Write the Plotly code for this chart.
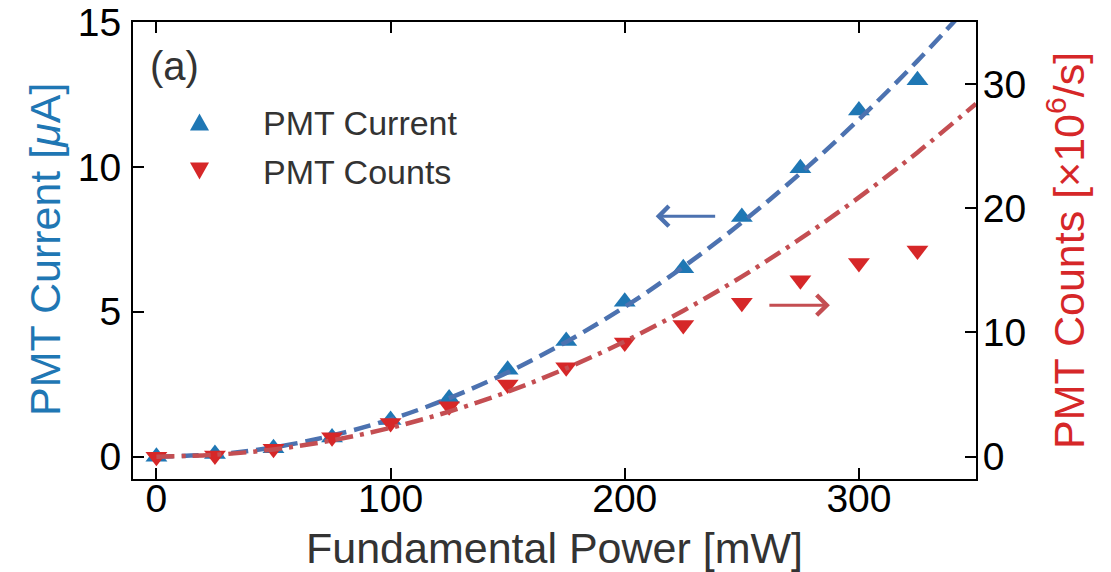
import plotly.graph_objects as go

# ---------------- data ----------------
power = [0, 25, 50, 75, 100, 125, 150, 175, 200, 225, 250, 275, 300, 325]
pmt_current = [0.0, 0.09, 0.29, 0.66, 1.27, 2.01, 3.0, 3.99, 5.35, 6.5, 8.27, 9.95, 11.95, 12.99]
pmt_counts = [0.0, 0.1, 0.64, 1.57, 2.7, 4.05, 5.8, 7.2, 9.2, 10.6, 12.4, 14.2, 15.6, 16.6]

fit_power = [0, 25, 50, 75, 100, 125, 150, 175, 200, 225, 250, 275, 300, 325, 350]
current_fit = [0.0, 0.08, 0.32, 0.73, 1.29, 2.02, 2.91, 3.96, 5.17, 6.55, 8.08, 9.78, 11.64, 13.66, 15.84]
counts_fit = [0.0, 0.15, 0.58, 1.31, 2.32, 3.63, 5.22, 7.11, 9.28, 11.75, 14.5, 17.55, 20.88, 24.5, 28.42]

x_ticks = [0, 100, 200, 300]
y_ticks = [0, 5, 10, 15]
y2_ticks = [0, 10, 20, 30]

# ---------------- style ----------------
BLUE = "#1f77b4"
RED = "#d62728"
BLUE_LINE = "#4C72B0"
RED_LINE = "#C44E52"
FONT = "Liberation Sans, Arial, Helvetica, sans-serif"
TXT = "#333333"

W, H = 1111, 572
L, R, T, B = 133, 135, 22, 93
PW, PH = W - L - R, H - T - B


def px(X, Y):
    return (X - L) / PW, (H - B - Y) / PH


fig = go.Figure()

fig.add_trace(go.Scatter(
    x=power, y=pmt_current, mode="markers", name="PMT Current",
    marker=dict(symbol="triangle-up", size=19, color=BLUE, line=dict(width=0)),
    showlegend=False, yaxis="y"))
fig.add_trace(go.Scatter(
    x=fit_power, y=current_fit, mode="lines", line_shape="spline",
    line=dict(color=BLUE_LINE, width=4.5, dash="17px,8px"),
    showlegend=False, yaxis="y"))
fig.add_trace(go.Scatter(
    x=power, y=pmt_counts, mode="markers", name="PMT Counts",
    marker=dict(symbol="triangle-down", size=19, color=RED, line=dict(width=0)),
    showlegend=False, yaxis="y2"))
fig.add_trace(go.Scatter(
    x=fit_power, y=counts_fit, mode="lines", line_shape="spline",
    line=dict(color=RED_LINE, width=4.5, dash="18px,7px,4px,7px"),
    showlegend=False, yaxis="y2"))

axis_common = dict(
    showline=True, linecolor="black", linewidth=2,
    ticks="inside", ticklen=11, tickwidth=2, tickcolor="black",
    showgrid=False, zeroline=False, automargin=False,
    tickfont=dict(family=FONT, size=39, color="black"),
)

fig.update_layout(
    width=W, height=H,
    margin=dict(l=L, r=R, t=T, b=B),
    paper_bgcolor="white", plot_bgcolor="white",
    showlegend=False,
    xaxis=dict(range=[-10, 350], tickvals=x_ticks, mirror="ticks",
               ticklabelstandoff=-16, **axis_common),
    yaxis=dict(range=[-0.77, 15], tickvals=y_ticks, mirror=False,
               ticklabelstandoff=2, **axis_common),
    yaxis2=dict(range=[-1.8, 35], tickvals=y2_ticks, overlaying="y", side="right",
                ticklabelstandoff=-3, **axis_common),
)

# legend (drawn manually)
legend_shapes = []
bx, by = 199.5, 122
x1, y1 = px(bx - 9.5, by + 8.5)
x2, y2 = px(bx + 9.5, by + 8.5)
x3, y3 = px(bx, by - 8.5)
legend_shapes.append(dict(type="path", xref="paper", yref="paper",
                          path=f"M{x1},{y1} L{x2},{y2} L{x3},{y3} Z",
                          fillcolor=BLUE, line=dict(width=0)))
rx, ry = 199.5, 171
x1, y1 = px(rx - 9.5, ry - 8.5)
x2, y2 = px(rx + 9.5, ry - 8.5)
x3, y3 = px(rx, ry + 8.5)
legend_shapes.append(dict(type="path", xref="paper", yref="paper",
                          path=f"M{x1},{y1} L{x2},{y2} L{x3},{y3} Z",
                          fillcolor=RED, line=dict(width=0)))
fig.update_layout(shapes=legend_shapes)

ann = []


def text_ann(text, X, Y, size, color, xanchor="left", angle=0):
    xp, yp = px(X, Y)
    ann.append(dict(text=text, x=xp, y=yp, xref="paper", yref="paper",
                    xanchor=xanchor, yanchor="middle", showarrow=False,
                    textangle=angle, borderpad=0,
                    font=dict(family=FONT, size=size, color=color)))


text_ann("PMT Current", 262, 123, 34, TXT)
text_ann("PMT Counts", 262, 172, 34, TXT)
text_ann("(a)", 149, 66, 40, TXT)
text_ann("Fundamental Power [mW]", 554, 548, 43, TXT, xanchor="center")
text_ann("PMT Current [<i>μ</i>A]", 45, 250, 43, BLUE, xanchor="center", angle=-90)
text_ann("PMT Counts [×10<sup>6</sup>/s]", 1066, 251, 43, RED, xanchor="center", angle=-90)

# direction arrows
ann.append(dict(x=213.2, y=8.3, xref="x", yref="y", ax=61, ay=0,
                axref="pixel", ayref="pixel", showarrow=True, text="",
                arrowhead=4, arrowsize=1.3, arrowwidth=3, arrowcolor=BLUE_LINE))
ann.append(dict(x=287.6, y=12.2, xref="x", yref="y2", ax=-62, ay=0,
                axref="pixel", ayref="pixel", showarrow=True, text="",
                arrowhead=4, arrowsize=1.3, arrowwidth=3, arrowcolor=RED_LINE))

fig.update_layout(annotations=ann)

fig.write_html("out.html")
